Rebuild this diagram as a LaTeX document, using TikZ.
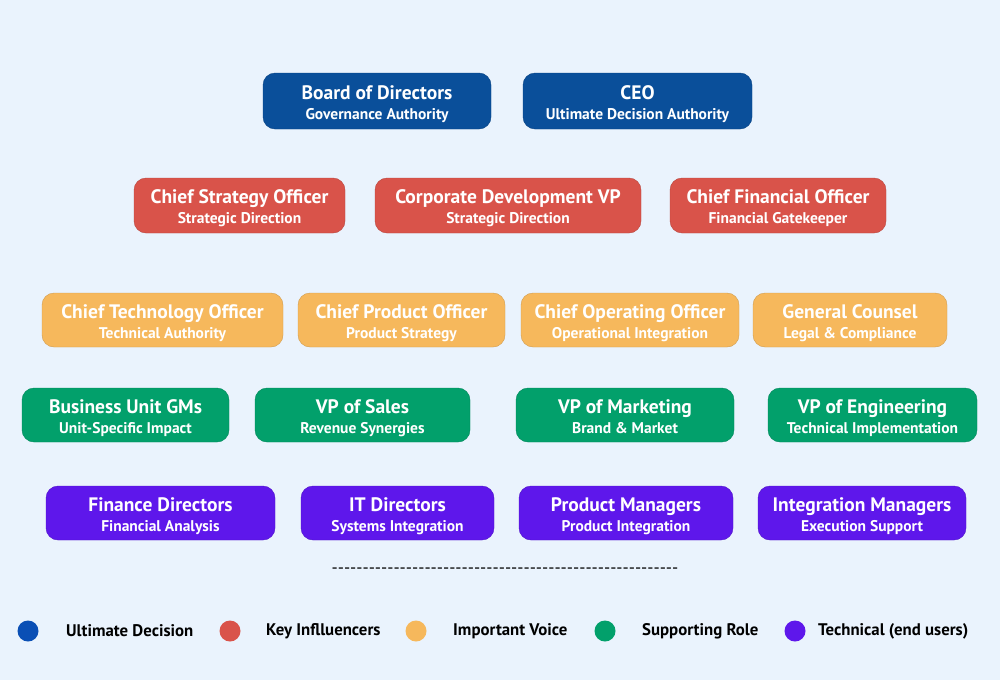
\documentclass[tikz,border=0pt]{standalone}
\usepackage{fontspec}
\setmainfont{PT Sans}
\definecolor{bg}{HTML}{EAF3FD}
\definecolor{cblue}{HTML}{0A4F9A}
\definecolor{lblue}{HTML}{0A4FB5}
\definecolor{cred}{HTML}{D9534A}
\definecolor{corange}{HTML}{F6B85C}
\definecolor{cgreen}{HTML}{02A06B}
\definecolor{cpurple}{HTML}{5E17EB}
\tikzset{
  card/.style={rounded corners=12pt, fill=#1, draw=#1!85!black, line width=0.4pt},
  cardtitle/.style={text=white, anchor=base, font=\bfseries\fontsize{19.5}{22}\selectfont, inner sep=0pt},
  cardsub/.style={text=white, anchor=base, font=\bfseries\fontsize{15.5}{18}\selectfont, inner sep=0pt},
  legdot/.style={circle, fill=#1, minimum width=20pt, minimum height=21pt, inner sep=0pt},
  legtext/.style={anchor=west, font=\bfseries\fontsize{16.8}{18}\selectfont, inner sep=0pt}
}
\newcommand\mycard[8]{%
  \path[card=#2] (#3,#4) rectangle (#5,#6);
  \node[cardtitle] (#1) at ({(#3+#5)/2},{(#4+#6)/2-2}) {#7};
  \node[cardsub] (#1s) at ({(#3+#5)/2},{(#4+#6)/2+18}) {#8};
}
\begin{document}
\begin{tikzpicture}[x=1pt,y=-1pt]
\fill[bg] (0,0) rectangle (1000,680);
\useasboundingbox (0,0) rectangle (1000,680);
% row 1
\mycard{bod}{cblue}{263}{73}{491}{129}{Board of Directors}{Governance Authority}
\mycard{ceo}{cblue}{523}{73}{752}{129}{CEO}{Ultimate Decision Authority}
% row 2
\mycard{cso}{cred}{134}{178}{345}{233}{Chief Strategy Officer}{Strategic Direction}
\mycard{cdvp}{cred}{375}{178}{641}{233}{Corporate Development VP}{Strategic Direction}
\mycard{cfo}{cred}{670}{178}{886}{233}{Chief Financial Officer}{Financial Gatekeeper}
% row 3
\mycard{cto}{corange}{42}{293}{283}{347}{Chief Technology Officer}{Technical Authority}
\mycard{cpo}{corange}{298}{293}{505}{347}{Chief Product Officer}{Product Strategy}
\mycard{coo}{corange}{521}{293}{739}{347}{Chief Operating Officer}{Operational Integration}
\mycard{gc}{corange}{753}{293}{947}{347}{General Counsel}{Legal \& Compliance}
% row 4
\mycard{bu}{cgreen}{22}{388}{229}{442}{Business Unit GMs}{Unit-Specific Impact}
\mycard{vps}{cgreen}{255}{388}{470}{442}{VP of Sales}{Revenue Synergies}
\mycard{vpm}{cgreen}{516}{388}{734}{442}{VP of Marketing}{Brand \& Market}
\mycard{vpe}{cgreen}{768}{388}{977}{442}{VP of Engineering}{Technical Implementation}
% row 5
\mycard{fd}{cpurple}{46}{486}{275}{540}{Finance Directors}{Financial Analysis}
\mycard{itd}{cpurple}{301}{486}{494}{540}{IT Directors}{Systems Integration}
\mycard{pm}{cpurple}{519}{486}{733}{540}{Product Managers}{Product Integration}
\mycard{im}{cpurple}{758}{486}{966}{540}{Integration Managers}{Execution Support}
% separator
\node[font=\fontsize{17.2}{18}\selectfont, inner sep=0pt] (sep) at (505,571) {-{}-{}-{}-{}-{}-{}-{}-{}-{}-{}-{}-{}-{}-{}-{}-{}-{}-{}-{}-{}-{}-{}-{}-{}-{}-{}-{}-{}-{}-{}-{}-{}-{}-{}-{}-{}-{}-{}-{}-{}-{}-{}-{}-{}-{}-{}-{}-{}-{}-{}-{}-{}-{}-{}-{}-};
% legend
\node[legdot=lblue] (d1) at (28,631) {};
\node[legtext] (t1) at (66,631) {Ultimate Decision};
\node[legdot=cred] (d2) at (230,631) {};
\node[legtext] (t2) at (266,631) {Key Inflluencers};
\node[legdot=corange] (d3) at (416,631) {};
\node[legtext] (t3) at (453,631) {Important Voice};
\node[legdot=cgreen] (d4) at (605,631) {};
\node[legtext] (t4) at (642,631) {Supporting Role};
\node[legdot=cpurple] (d5) at (795,631) {};
\node[legtext] (t5) at (818,631) {Technical (end users)};
\end{tikzpicture}
\end{document}
